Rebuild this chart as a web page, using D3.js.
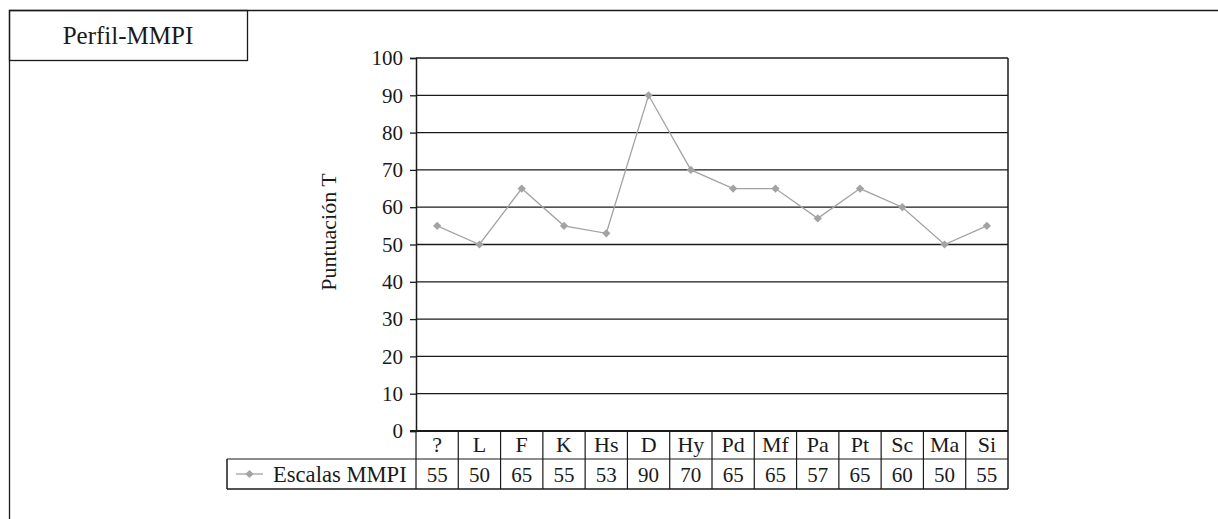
<!DOCTYPE html>
<html><head><meta charset="utf-8">
<script src="https://cdn.jsdelivr.net/npm/d3@7"></script>
<style>body{margin:0;background:#fff}svg{display:block}text{font-family:"Liberation Serif","Times New Roman",serif;fill:#1a1a1a}</style>
</head><body><svg id="c" width="1218" height="519"></svg>
<script>
const categories = ["?","L","F","K","Hs","D","Hy","Pd","Mf","Pa","Pt","Sc","Ma","Si"];
const values = [55,50,65,55,53,90,70,65,65,57,65,60,50,55];
const yTicks = [0,10,20,30,40,50,60,70,80,90,100];
const seriesName = "Escalas MMPI";
const title = "Perfil-MMPI";
const yLabel = "Puntuación T";

const svg = d3.select("#c");
const L = 416, R = 1008, T = 58, B = 431;
const x = d3.scaleBand().domain(categories).range([L, R]);
const y = d3.scaleLinear().domain([0,100]).range([B, T]);
const ink = "#1a1a1a", grey = "#a3a3a3";
const fs = 21;

// outer frame
svg.append("path").attr("d", "M9.5,530 V10.5 H1230").attr("fill","none").attr("stroke",ink).attr("stroke-width",1.3);
svg.append("rect").attr("x",9.5).attr("y",10.5).attr("width",238).attr("height",50).attr("fill","none").attr("stroke",ink).attr("stroke-width",1.3);
svg.append("text").attr("x",128).attr("y",44).attr("text-anchor","middle").attr("font-size",25).text(title);

// gridlines
svg.append("g").selectAll("line").data(yTicks.filter(d=>d>0)).join("line")
  .attr("x1",L).attr("x2",R).attr("y1",d=>y(d)).attr("y2",d=>y(d)).attr("stroke",ink).attr("stroke-width",1.3);

// y axis
const ya = svg.append("g").attr("transform",`translate(${L},0)`)
  .call(d3.axisLeft(y).tickValues(yTicks).tickSize(6).tickPadding(7));
ya.select(".domain").attr("stroke",ink).attr("stroke-width",1.5);
ya.selectAll(".tick line").attr("stroke",ink).attr("stroke-width",1.3);
ya.selectAll(".tick text").attr("font-size",fs).attr("font-family",'"Liberation Serif",serif').attr("fill",ink).attr("dy","0.32em");

// right border
svg.append("line").attr("x1",R).attr("x2",R).attr("y1",T).attr("y2",489).attr("stroke",ink).attr("stroke-width",1.5);

// x axis baseline
svg.append("line").attr("x1",L-6).attr("x2",R).attr("y1",B).attr("y2",B).attr("stroke",ink).attr("stroke-width",2.2);

// table
const rowTop = B, rowMid = 459, rowBot = 489, legL = 227;
svg.append("g").selectAll("line").data(categories).join("line")
  .attr("x1",d=>x(d)).attr("x2",d=>x(d)).attr("y1",rowTop).attr("y2",rowBot).attr("stroke",ink).attr("stroke-width",1.2);
svg.append("line").attr("x1",legL).attr("x2",R).attr("y1",rowMid).attr("y2",rowMid).attr("stroke",ink).attr("stroke-width",1.2);
svg.append("line").attr("x1",legL).attr("x2",R).attr("y1",rowBot).attr("y2",rowBot).attr("stroke",ink).attr("stroke-width",1.5);
svg.append("line").attr("x1",legL).attr("x2",legL).attr("y1",rowMid).attr("y2",rowBot).attr("stroke",ink).attr("stroke-width",1.5);

svg.append("g").selectAll("text").data(categories).join("text")
  .attr("x",d=>x(d)+x.bandwidth()/2).attr("y",452).attr("text-anchor","middle").attr("font-size",22).text(d=>d);
svg.append("g").selectAll("text").data(values).join("text")
  .attr("x",(d,i)=>x(categories[i])+x.bandwidth()/2).attr("y",482).attr("text-anchor","middle").attr("font-size",fs).text(d=>d);

// legend
svg.append("line").attr("x1",236).attr("x2",263).attr("y1",474).attr("y2",474).attr("stroke",grey).attr("stroke-width",1.3);
const diamond = d3.symbol().type(d3.symbolSquare).size(34);
svg.append("path").attr("d",diamond()).attr("transform","translate(249.5,474) rotate(45)").attr("fill",grey);
svg.append("text").attr("x",273).attr("y",482).attr("font-size",22.6).text(seriesName);

// y label
svg.append("text").attr("transform","translate(336,232) rotate(-90)").attr("text-anchor","middle").attr("font-size",22).text(yLabel);

// series
const cx = (d,i)=>x(categories[i])+x.bandwidth()/2;
svg.append("path").datum(values).attr("fill","none").attr("stroke",grey).attr("stroke-width",1.3)
  .attr("d", d3.line().x(cx).y(d=>y(d)));
svg.append("g").selectAll("path").data(values).join("path")
  .attr("d",diamond()).attr("transform",(d,i)=>`translate(${cx(d,i)},${y(d)}) rotate(45)`).attr("fill",grey);
</script></body></html>
